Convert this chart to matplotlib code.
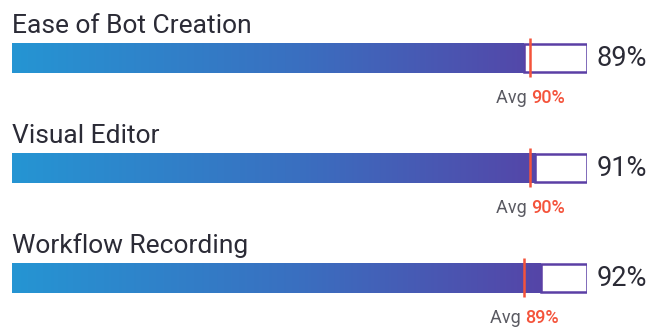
import numpy as np
import matplotlib.pyplot as plt
from matplotlib.patches import Rectangle
from matplotlib.colors import LinearSegmentedColormap

categories = ['Ease of Bot Creation', 'Visual Editor', 'Workflow Recording']
scores = [89, 91, 92]
averages = [90, 90, 89]

plt.rcParams['font.family'] = ['Roboto', 'DejaVu Sans']

W, H = 666, 327
fig = plt.figure(figsize=(W / 100, H / 100), dpi=100)
# axes spans the bar track in x (0..100), pixel rows in y
ax = fig.add_axes([12 / W, 0, 575 / W, 1])
ax.set_xlim(0, 100)
ax.set_ylim(H, 0)
ax.axis('off')

cmap = LinearSegmentedColormap.from_list('bar', ['#2595d3', '#3a6fc0', '#5a3da3'])
grad = np.linspace(0, 1, 256).reshape(1, -1)

row_top = [43, 153, 263]
bar_h = 30
for name, val, avg, top in zip(categories, scores, averages, row_top):
    # title
    ax.text(0, top - 10, name, fontsize=19, color='#2b2b36', ha='left', va='baseline')
    # empty part of the track
    ax.add_patch(Rectangle((val, top + 0.8), 100 - val, bar_h - 1.6, facecolor='white',
                           edgecolor='#5b3fa5', lw=1.8, zorder=1))
    # gradient fill
    im = ax.imshow(grad, cmap=cmap, aspect='auto', extent=[0, 100, top + bar_h, top],
                   zorder=2, interpolation='bilinear')
    clip = Rectangle((0, top), val, bar_h, transform=ax.transData)
    im.set_clip_path(clip)
    # average marker
    ax.plot([avg, avg], [top - 5, top + bar_h + 4], color='#f4533b', lw=1.8, zorder=3,
            solid_capstyle='butt')
    ax.text(avg + 0.3, top + bar_h + 30, 'Avg ', fontsize=13, color='#5a5a62',
            ha='right', va='baseline')
    ax.text(avg + 0.3, top + bar_h + 30, f'{avg}%', fontsize=13, color='#f4533b',
            ha='left', va='baseline', fontweight='medium')
    # score label
    ax.text(101.6, top + bar_h / 2 + 1, f'{val}%', fontsize=19.5, color='#2b2b36',
            ha='left', va='center', clip_on=False)

fig.savefig('out.png', dpi=100, facecolor='white')
